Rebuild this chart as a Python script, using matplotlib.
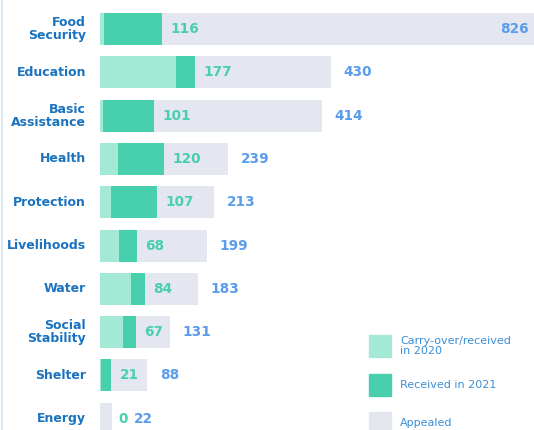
import matplotlib.pyplot as plt

sectors = ["Food\nSecurity", "Education", "Basic\nAssistance", "Health", "Protection",
           "Livelihoods", "Water", "Social\nStability", "Shelter", "Energy"]
carry_over = [7, 142, 6, 33, 20, 35, 58, 43, 2, 0]
received_2021 = [109, 35, 95, 87, 87, 33, 26, 24, 19, 0]
received_total = [116, 177, 101, 120, 107, 68, 84, 67, 21, 0]
appealed = [826, 430, 414, 239, 213, 199, 183, 131, 88, 22]

c_carry = "#a4e8d6"
c_rec = "#48cfae"
c_app = "#e4e7ef"
c_green_txt = "#48cfae"
c_blue_txt = "#5a9ded"
c_cat = "#1b73c0"
c_leg = "#3a8fd6"

plt.rcParams['font.family'] = ['DejaVu Sans']

fig = plt.figure(figsize=(5.34, 4.30), dpi=100)
ax = fig.add_axes([100 / 534, 0, 434 / 534, 1])

xmax = 434 / 0.537
ax.set_xlim(0, xmax)
ax.set_ylim(9.26, -0.67)
ax.axis("off")

y = list(range(len(sectors)))
h = 0.74
ax.barh(y, appealed, height=h, color=c_app, zorder=1)
ax.barh(y, carry_over, height=h, color=c_carry, zorder=2)
ax.barh(y, received_2021, left=carry_over, height=h, color=c_rec, zorder=2)

lab_kw = dict(va="center", fontsize=9.8, fontweight="bold", textcoords="offset points")
for i in y:
    ax.text(-14 / 0.537, i, sectors[i], ha="right", va="center", fontsize=9,
            fontweight="bold", color=c_cat, linespacing=1.0)
    tot = received_total[i]
    app = appealed[i]
    if tot == 0:
        ax.annotate(str(tot), (app, i), xytext=(4.5, 0), ha="left", color=c_green_txt, **lab_kw)
        ax.annotate(str(app), (app, i), xytext=(16, 0), ha="left", color=c_blue_txt, **lab_kw)
        continue
    ax.annotate(str(tot), (tot, i), xytext=(6, 0), ha="left", color=c_green_txt, **lab_kw)
    if app > xmax:
        ax.annotate(str(app), (xmax, i), xytext=(-4, 0), ha="right", color=c_blue_txt, **lab_kw)
    else:
        ax.annotate(str(app), (app, i), xytext=(9, 0), ha="left", color=c_blue_txt, **lab_kw)

# legend
leg_items = [("Carry-over/received\nin 2020", c_carry), ("Received in 2021", c_rec), ("Appealed", c_app)]
leg_y = [346, 385, 423]
for (lab, col), yy in zip(leg_items, leg_y):
    fig.patches.append(plt.Rectangle((369 / 534, 1 - (yy + 11) / 430), 22 / 534, 22 / 430,
                                     transform=fig.transFigure, color=col))
    fig.text(400 / 534, 1 - yy / 430, lab, ha="left", va="center", fontsize=8,
             color=c_leg, linespacing=1.1)

# thin border on the left
fig.add_artist(plt.Line2D([1.5 / 534, 1.5 / 534], [0, 1], transform=fig.transFigure,
                          color="#dde8f3", lw=1.5))

fig.savefig("out.png", dpi=100)
